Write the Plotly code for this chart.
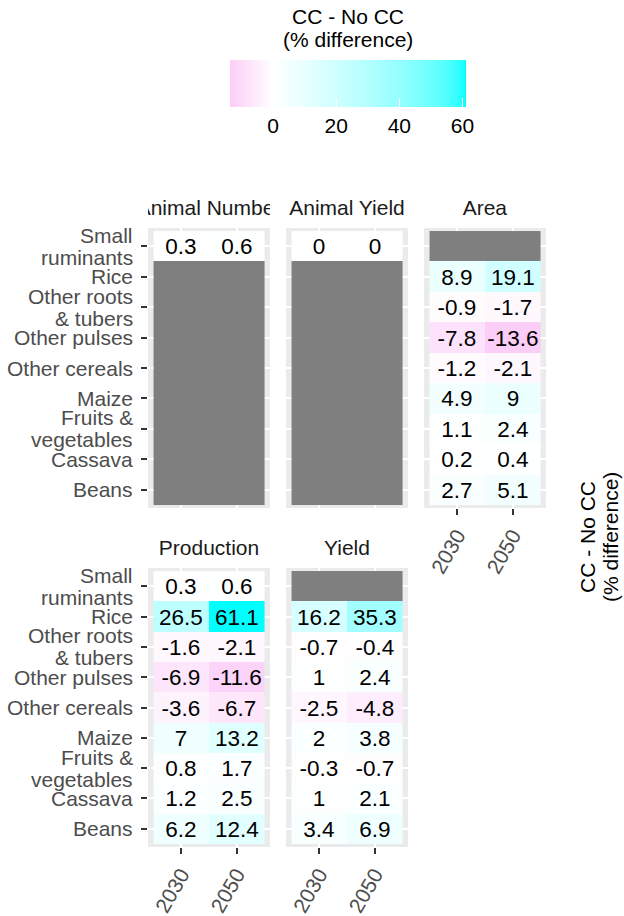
import math
import plotly.graph_objects as go

# ---------------- data ----------------
categories = ["Beans", "Cassava", "Fruits & vegetables", "Maize", "Other cereals",
              "Other pulses", "Other roots & tubers", "Rice", "Small ruminants"]
years = ["2030", "2050"]
panels = ["Animal Number", "Animal Yield", "Area", "Production", "Yield"]

# values per category, [2030, 2050]; missing categories are NA (grey tiles)
animal_number = {"Small ruminants": [0.3, 0.6]}
animal_yield = {"Small ruminants": [0, 0]}
area = {
    "Rice": [8.9, 19.1], "Other roots & tubers": [-0.9, -1.7],
    "Other pulses": [-7.8, -13.6], "Other cereals": [-1.2, -2.1],
    "Maize": [4.9, 9], "Fruits & vegetables": [1.1, 2.4],
    "Cassava": [0.2, 0.4], "Beans": [2.7, 5.1],
}
production = {
    "Small ruminants": [0.3, 0.6], "Rice": [26.5, 61.1],
    "Other roots & tubers": [-1.6, -2.1], "Other pulses": [-6.9, -11.6],
    "Other cereals": [-3.6, -6.7], "Maize": [7, 13.2],
    "Fruits & vegetables": [0.8, 1.7], "Cassava": [1.2, 2.5], "Beans": [6.2, 12.4],
}
yield_ = {
    "Rice": [16.2, 35.3], "Other roots & tubers": [-0.7, -0.4],
    "Other pulses": [1, 2.4], "Other cereals": [-2.5, -4.8],
    "Maize": [2, 3.8], "Fruits & vegetables": [-0.3, -0.7],
    "Cassava": [1, 2.1], "Beans": [3.4, 6.9],
}
panel_data = [animal_number, animal_yield, area, production, yield_]

tick_lines = {
    "Small ruminants": ["Small", "ruminants"],
    "Other roots & tubers": ["Other roots", "& tubers"],
    "Fruits & vegetables": ["Fruits &", "vegetables"],
}
legend_title = ["CC - No CC", "(% difference)"]
colorbar_ticks = [0, 20, 40, 60]

# ---------------- colour scale (Lab interpolation, like ggplot) ----------------
def srgb_to_lab(hexc):
    r, g, b = [int(hexc[i:i + 2], 16) / 255 for i in (1, 3, 5)]
    def lin(c):
        return c / 12.92 if c <= 0.04045 else ((c + 0.055) / 1.055) ** 2.4
    r, g, b = lin(r), lin(g), lin(b)
    X = (0.4124 * r + 0.3576 * g + 0.1805 * b) / 0.95047
    Y = (0.2126 * r + 0.7152 * g + 0.0722 * b)
    Z = (0.0193 * r + 0.1192 * g + 0.9505 * b) / 1.08883
    def f(t):
        return t ** (1 / 3) if t > 0.008856 else 7.787 * t + 16 / 116
    fx, fy, fz = f(X), f(Y), f(Z)
    return (116 * fy - 16, 500 * (fx - fy), 200 * (fy - fz))

def lab_to_hex(L, a, bb):
    fy = (L + 16) / 116
    fx = fy + a / 500
    fz = fy - bb / 200
    def finv(t):
        return t ** 3 if t ** 3 > 0.008856 else (t - 16 / 116) / 7.787
    X, Y, Z = 0.95047 * finv(fx), finv(fy), 1.08883 * finv(fz)
    r = 3.2406 * X - 1.5372 * Y - 0.4986 * Z
    g = -0.9689 * X + 1.8758 * Y + 0.0415 * Z
    b = 0.0557 * X - 0.2040 * Y + 1.0570 * Z
    def gam(c):
        c = c * 12.92 if c <= 0.0031308 else 1.055 * c ** (1 / 2.4) - 0.055
        return max(0, min(255, round(c * 255)))
    return "#%02x%02x%02x" % (gam(r), gam(g), gam(b))

all_vals = [v for d in panel_data for pair in d.values() for v in pair]
cmin, cmax = min(all_vals), max(all_vals)
LOW, MID, HIGH = "#fbcdf7", "#ffffff", "#00ffff"
lab_low, lab_mid, lab_high = srgb_to_lab(LOW), srgb_to_lab(MID), srgb_to_lab(HIGH)

def col_for(v):
    if v < 0:
        t = v / cmin
        a, b = lab_mid, lab_low
    else:
        t = v / cmax
        a, b = lab_mid, lab_high
    return lab_to_hex(*[a[i] + (b[i] - a[i]) * t for i in range(3)])

N = 60
colorscale = []
for i in range(N + 1):
    s = i / N
    v = cmin + s * (cmax - cmin)
    colorscale.append([s, col_for(v)])
s0 = -cmin / (cmax - cmin)
colorscale.append([s0, "#ffffff"])
colorscale.sort(key=lambda p: p[0])

# ---------------- layout geometry ----------------
W, H = 624, 916
def px(x):
    return x / W
def py(y):
    return 1 - y / H

panel_boxes = [
    (148, 270, 228, 508),
    (286, 408, 228, 508),
    (424, 546, 228, 508),
    (148, 270, 568, 847),
    (286, 408, 568, 847),
]
show_y = [True, False, False, True, False]
show_x = [False, False, True, True, True]

FONT = "Liberation Sans, Arial, sans-serif"
fig = go.Figure()
layout = dict(
    width=W, height=H, margin=dict(l=0, r=0, t=0, b=0, autoexpand=False),
    paper_bgcolor="white", plot_bgcolor="#EBEBEB",
    font=dict(family=FONT, size=21, color="#1A1A1A"),
    showlegend=False,
)

annotations = []
for k, (name, data, box, sy, sx) in enumerate(zip(panels, panel_data, panel_boxes, show_y, show_x)):
    idx = "" if k == 0 else str(k + 1)
    xa, ya = "x" + idx, "y" + idx
    z, na, txt = [], [], []
    for c in categories:
        vals = data.get(c)
        if vals is None:
            z.append([None, None])
            na.append([1, 1])
            txt.append(["", ""])
        else:
            z.append(list(vals))
            na.append([None, None])
            txt.append(["{:g}".format(v) for v in vals])
    fig.add_trace(go.Heatmap(
        x=years, y=categories, z=na, xaxis=xa, yaxis=ya,
        colorscale=[[0, "#7F7F7F"], [1, "#7F7F7F"]], zmin=0, zmax=1,
        showscale=False, hoverinfo="skip", xgap=0, ygap=0,
    ))
    fig.add_trace(go.Heatmap(
        x=years, y=categories, z=z, text=txt, texttemplate="%{text}",
        textfont=dict(family=FONT, size=22.5, color="black"),
        coloraxis="coloraxis", xaxis=xa, yaxis=ya, xgap=0, ygap=0,
    ))
    x0, x1, y0, y1 = box
    layout["xaxis" + idx] = dict(
        domain=[px(x0), px(x1)], anchor=ya, type="category",
        categoryorder="array", categoryarray=years, range=[-0.6, 1.6],
        showgrid=True, gridcolor="white", gridwidth=1.5, zeroline=False,
        showline=False, fixedrange=True, automargin=False,
        showticklabels=sx, ticks="outside" if sx else "",
        ticklen=6, tickwidth=2, tickcolor="#333333", tickangle=-60,
        tickfont=dict(family=FONT, size=21, color="#4D4D4D"),
    )
    layout["yaxis" + idx] = dict(
        domain=[py(y1), py(y0)], anchor=xa, type="category",
        categoryorder="array", categoryarray=categories, range=[-0.6, 8.6],
        showgrid=True, gridcolor="white", gridwidth=1.5, zeroline=False,
        showline=False, fixedrange=True, automargin=False,
        showticklabels=False, ticks="outside" if sy else "",
        ticklen=6, tickwidth=2, tickcolor="#333333",
    )
    if sy:
        for c in categories:
            lines = tick_lines.get(c, [c])
            n = len(lines)
            for j, line in enumerate(lines):
                annotations.append(dict(
                    text=line, x=px(x0 - 13), y=c, xref="paper", yref=ya,
                    xanchor="right", yanchor="middle", showarrow=False,
                    yshift=(n - 1) * 11 - 22 * j,
                    font=dict(family=FONT, size=21, color="#4D4D4D"),
                ))
    strip_y = 208 if k < 3 else 547
    annotations.append(dict(
        text=name, x=px((x0 + x1) / 2), y=py(strip_y), xref="paper", yref="paper",
        xanchor="center", yanchor="middle", showarrow=False, width=x1 - x0,
        align="center", font=dict(family=FONT, size=21, color="#1A1A1A"),
    ))

# legend title (top, above colour bar)
for line, ypos in zip(legend_title, (16, 40)):
    annotations.append(dict(
        text=line, x=px(348), y=py(ypos), xref="paper", yref="paper",
        xanchor="center", yanchor="middle", showarrow=False,
        font=dict(family=FONT, size=21, color="black"),
    ))
# empty legend title on the right (rotated)
for line, xpos in zip(legend_title, (587, 610)):
    annotations.append(dict(
        text=line, x=px(xpos), y=py(537), xref="paper", yref="paper",
        xanchor="center", yanchor="middle", showarrow=False, textangle=-90,
        font=dict(family=FONT, size=21, color="black"),
    ))

layout["annotations"] = annotations
layout["coloraxis"] = dict(
    colorscale=colorscale, cmin=cmin, cmax=cmax,
    colorbar=dict(
        orientation="h", x=px(348), xanchor="center", y=py(60), yanchor="top",
        len=236, lenmode="pixels", thickness=47, thicknessmode="pixels",
        xpad=0, ypad=0, outlinewidth=0,
        tickmode="array", tickvals=colorbar_ticks,
        ticks="inside", ticklen=9, tickwidth=1, tickcolor="white",
        tickfont=dict(family=FONT, size=21, color="black"),
    ),
)
fig.update_layout(**layout)
fig.write_html(
    "out.html",
    config={"displayModeBar": False},
    post_script="document.body.style.margin='0';document.body.style.padding='0';",
)
